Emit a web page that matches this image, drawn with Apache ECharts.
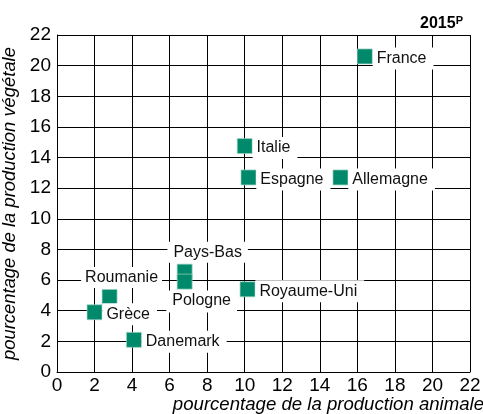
<!DOCTYPE html>
<html>
<head>
<meta charset="utf-8">
<title>Production animale / végétale 2015</title>
<script src="https://cdn.jsdelivr.net/npm/echarts@6/dist/echarts.min.js"></script>
</head>
<body style="margin:0">
<div id="main" style="width:483px;height:414px;"></div>
<script type="text/javascript">
// pays et parts (%) de la production animale / végétale, 2015 (provisoire)
var countries = ['France', 'Italie', 'Espagne', 'Allemagne', 'Pays-Bas', 'Pologne', 'Roumanie', 'Grèce', 'Danemark', 'Royaume-Uni'];
var animal = [16.4, 10.0, 10.2, 15.1, 6.8, 6.8, 2.8, 2.0, 4.1, 10.15];
var vegetal = [20.6, 14.75, 12.7, 12.7, 6.55, 5.9, 4.9, 3.9, 2.1, 5.4];
var axisMax = 22;
var axisStep = 2;

var font = "'Liberation Sans', Arial, sans-serif";

// placement des étiquettes (par défaut à droite du carré)
var labelRight = { position: 'right', distance: 0, offset: [0, 2], padding: [3, 7, 3, 4] };
var labelSpecial = {
    'Pays-Bas': { position: 'top', distance: 1, offset: [23, 0], padding: [3, 6, 2, 6] },
    'Pologne': { position: 'bottom', distance: 1, offset: [17, 0], padding: [2, 6, 4, 6] },
    'Roumanie': { position: 'top', distance: 1, offset: [12, 0], padding: [3, 4, 2, 4] }
};

var points = countries.map(function (name, i) {
    var lab = labelSpecial[name] || labelRight;
    return {
        name: name,
        value: [animal[i], vegetal[i]],
        label: {
            position: lab.position,
            distance: lab.distance,
            offset: lab.offset,
            padding: lab.padding
        }
    };
});

var myChart = echarts.init(document.getElementById('main'));

var option = {
    animation: false,
    title: {
        text: '{a|2015}{b|P}',
        right: 15,
        top: 10,
        textStyle: {
            rich: {
                a: { fontFamily: font, fontWeight: 'bold', fontSize: 16, color: '#000', lineHeight: 18 },
                b: { fontFamily: font, fontWeight: 'bold', fontSize: 11, color: '#000', verticalAlign: 'top', lineHeight: 18 }
            }
        }
    },
    grid: { left: 57, right: 13, top: 35, bottom: 42, outerBoundsMode: 'none' },
    xAxis: {
        type: 'value',
        min: 0,
        max: axisMax,
        interval: axisStep,
        name: 'pourcentage de la production animale',
        nameLocation: 'end',
        nameGap: 14,
        nameTextStyle: {
            fontFamily: font, fontSize: 18.6, fontStyle: 'italic', color: '#000',
            align: 'right', verticalAlign: 'top', padding: [23, 0, 0, 0]
        },
        axisLine: { show: true, lineStyle: { color: '#000', width: 1 } },
        axisTick: { show: false },
        axisLabel: { fontFamily: font, fontSize: 19, color: '#000', margin: 4 },
        splitLine: { show: true, lineStyle: { color: '#000', width: 1 } }
    },
    yAxis: {
        type: 'value',
        min: 0,
        max: axisMax,
        interval: axisStep,
        name: 'pourcentage de la production végétale',
        nameLocation: 'middle',
        nameGap: 30,
        nameTextStyle: { fontFamily: font, fontSize: 18.4, fontStyle: 'italic', color: '#000' },
        axisLine: { show: true, lineStyle: { color: '#000', width: 1 } },
        axisTick: { show: false },
        axisLabel: { fontFamily: font, fontSize: 19, color: '#000', margin: 6 },
        splitLine: { show: true, lineStyle: { color: '#000', width: 1 } }
    },
    series: [{
        type: 'scatter',
        symbol: 'rect',
        symbolSize: 15,
        itemStyle: { color: '#00896b', borderColor: '#9fd3c2', borderWidth: 0.7, opacity: 1 },
        label: {
            show: true,
            formatter: '{b}',
            fontFamily: font,
            fontSize: 16,
            color: '#111',
            backgroundColor: '#fff'
        },
        emphasis: { disabled: true },
        data: points
    }]
};

myChart.setOption(option);
</script>
</body>
</html>
